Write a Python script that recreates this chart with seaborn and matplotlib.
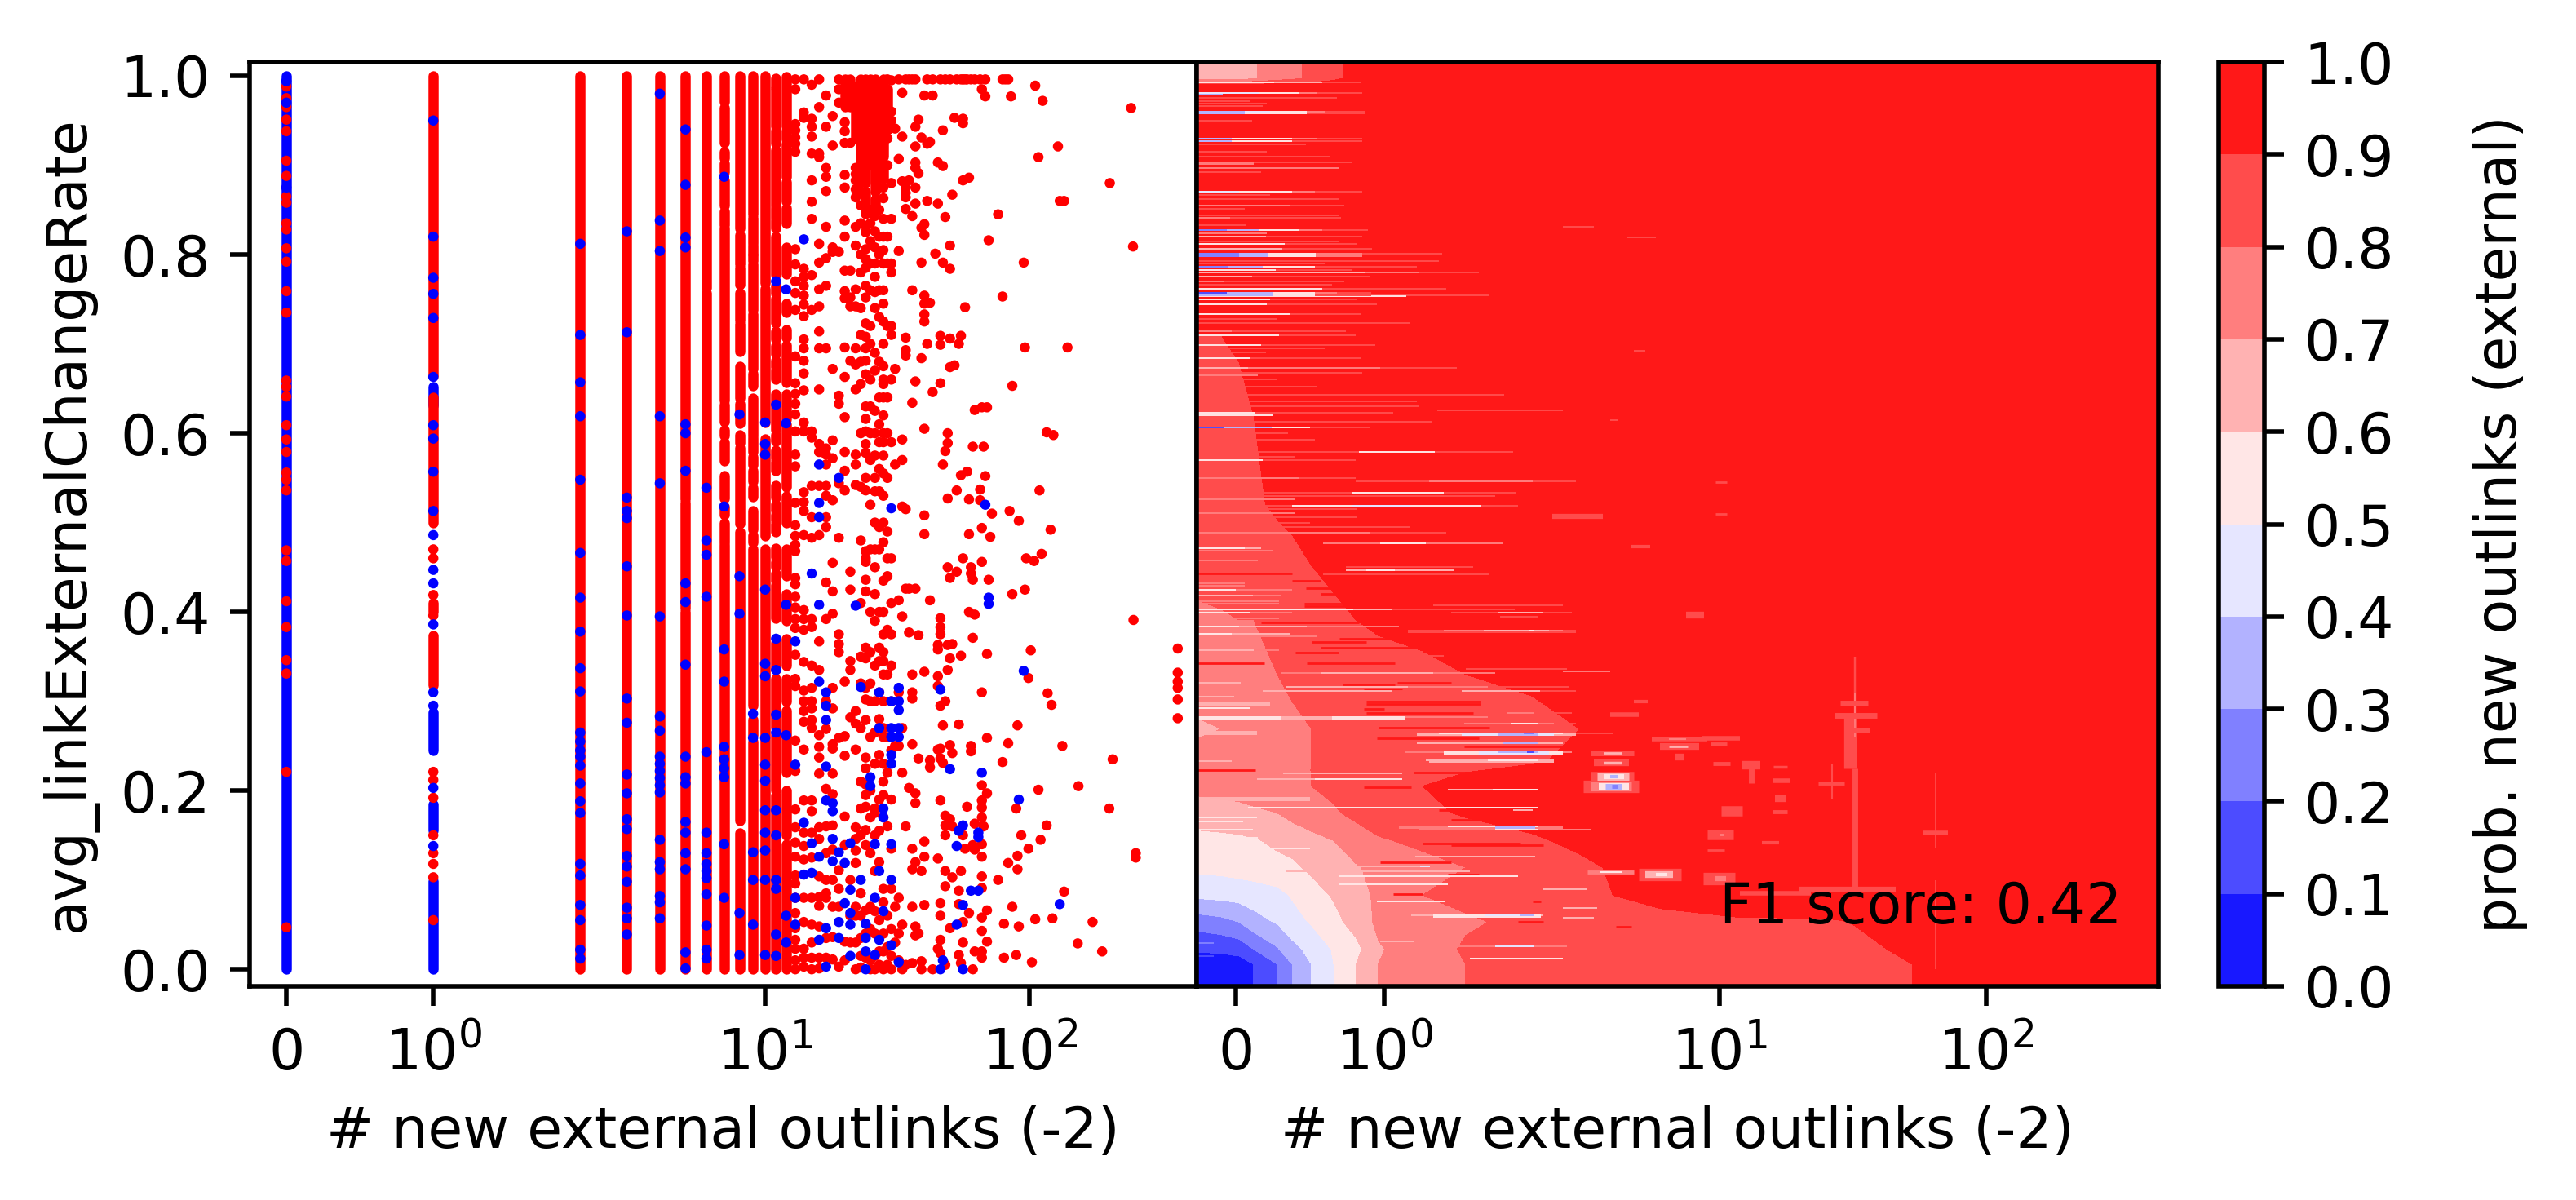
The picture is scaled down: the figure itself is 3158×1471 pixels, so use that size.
import matplotlib
matplotlib.use("Agg")
import matplotlib.pyplot as plt
import numpy as np
import pandas as pd
import seaborn as sns
from matplotlib.ticker import NullLocator

# ---------- labels ----------
x_label = "# new external outlinks (-2)"
y_label = "avg_linkExternalChangeRate"
cbar_label = "prob. new outlinks (external)"
f1_text = "F1 score: 0.42"
x_ticks = [0, 1, 10, 100]
x_ticklabels = ["0", r"$\mathdefault{10^{0}}$", r"$\mathdefault{10^{1}}$", r"$\mathdefault{10^{2}}$"]
y_ticks = [0.0, 0.2, 0.4, 0.6, 0.8, 1.0]
levels = [0.0, 0.1, 0.2, 0.3, 0.4, 0.5, 0.6, 0.7, 0.8, 0.9, 1.0]

# ---------- left panel: nearly solid columns, (low, high) of y ----------
blue_spans = {
    0: [(0.0, 1.0)],
    1: [(0.0, 0.099), (0.155, 0.185), (0.245, 0.288), (0.631, 0.652)],
}
red_spans = {
    1: [(0.664, 1.0), (0.318, 0.374), (0.5, 0.64), (0.40, 0.41)],
    2: [(0.0, 1.0)],
    3: [(0.0, 1.0)],
    4: [(0.625, 1.0), (0.0, 0.622)],
    5: [(0.526, 1.0), (0.404, 0.522), (0.0, 0.400)],
    6: [(0.763, 1.0), (0.0, 0.757)],
    7: [(0.971, 1.0), (0.925, 0.964), (0.908, 0.915), (0.892, 0.902), (0.855, 0.883), (0.833, 0.848),
        (0.637, 0.829), (0.613, 0.632), (0.597, 0.604), (0.569, 0.590), (0.527, 0.553), (0.509, 0.518),
        (0.478, 0.500), (0.0, 0.475)],
    8: [(0.829, 1.0), (0.789, 0.822), (0.766, 0.785), (0.726, 0.757), (0.691, 0.722), (0.639, 0.675),
        (0.611, 0.633), (0.589, 0.598), (0.499, 0.584), (0.166, 0.49), (0.0, 0.153)],
    9: [(0.845, 1.0), (0.813, 0.841), (0.801, 0.810), (0.793, 0.799), (0.738, 0.789), (0.672, 0.733),
        (0.653, 0.667), (0.597, 0.639), (0.579, 0.595), (0.564, 0.574), (0.546, 0.558), (0.529, 0.539),
        (0.492, 0.513), (0.478, 0.486), (0.295, 0.470), (0.262, 0.280), (0.0, 0.255)],
    10: [(0.768, 1.0), (0.612, 0.762), (0.485, 0.594), (0.0, 0.47)],
    11: [(0.987, 0.9975), (0.943, 0.985), (0.924, 0.939), (0.855, 0.917), (0.841, 0.852), (0.829, 0.838),
         (0.777, 0.820), (0.756, 0.765), (0.723, 0.751), (0.705, 0.714), (0.689, 0.698), (0.674, 0.681),
         (0.660, 0.670), (0.604, 0.644), (0.591, 0.598), (0.572, 0.581), (0.558, 0.568), (0.528, 0.542),
         (0.513, 0.521), (0.502, 0.509), (0.490, 0.499), (0.461, 0.471), (0.450, 0.456), (0.435, 0.443),
         (0.393, 0.430), (0.335, 0.365), (0.27, 0.325), (0.20, 0.262), (0.0, 0.195)],
    12: [(0.943, 0.999), (0.929, 0.939), (0.887, 0.924), (0.859, 0.881), (0.835, 0.852), (0.778, 0.808),
         (0.735, 0.745), (0.707, 0.716), (0.657, 0.699), (0.616, 0.644), (0.54, 0.61), (0.50, 0.53),
         (0.44, 0.47), (0.39, 0.42), (0.34, 0.37), (0.30, 0.325), (0.22, 0.29), (0.15, 0.20), (0.0, 0.14)],
    20: [(0.965, 0.996)],
    21: [(0.965, 0.996)],
    22: [(0.93, 0.985)],
    23: [(0.88, 0.996)],
    24: [(0.88, 0.996), (0.846, 0.87)],
    25: [(0.90, 0.996)],
    26: [(0.87, 0.996), (0.85, 0.862)],
    27: [(0.89, 0.985)],
    28: [(0.91, 0.996), (0.885, 0.90)],
    29: [(0.94, 0.985)],
}

# ---------- left panel: single points per column, y values ----------
red_points = {
    0: [0.988, 0.975, 0.965, 0.951, 0.938, 0.905, 0.888, 0.865, 0.858, 0.835, 0.828, 0.807, 0.792, 0.759,
        0.735, 0.659, 0.652, 0.641, 0.609, 0.593, 0.579, 0.556, 0.548, 0.536, 0.469, 0.457, 0.412, 0.383,
        0.346, 0.331, 0.221, 0.047],
    1: [0.47, 0.46, 0.419, 0.396, 0.221, 0.212, 0.192, 0.15, 0.13, 0.118, 0.103, 0.055],
    13: [0.996, 0.985, 0.946, 0.939, 0.931, 0.924, 0.915, 0.806, 0.789, 0.770, 0.757, 0.738, 0.686, 0.656,
         0.644, 0.633, 0.621, 0.602, 0.576, 0.563, 0.522, 0.497, 0.485, 0.475, 0.468, 0.438, 0.431, 0.417,
         0.405, 0.392, 0.382, 0.352, 0.325, 0.317, 0.256, 0.222, 0.179, 0.159, 0.142, 0.126, 0.105, 0.096,
         0.080, 0.063, 0.046, 0.033, 0.023, 0.010, 0.0],
    14: [0.996, 0.959, 0.953, 0.784, 0.775, 0.765, 0.754, 0.744, 0.731, 0.705, 0.695, 0.681, 0.667, 0.648,
         0.612, 0.602, 0.534, 0.523, 0.513, 0.486, 0.402, 0.392, 0.380, 0.344, 0.312, 0.300, 0.289, 0.277,
         0.246, 0.189, 0.153, 0.138, 0.123, 0.080, 0.053, 0.023, 0.013, 0.003],
    15: [0.990, 0.952, 0.943, 0.932, 0.913, 0.883, 0.859, 0.840, 0.777, 0.738, 0.602, 0.595, 0.541, 0.506,
         0.483, 0.392, 0.383, 0.340, 0.315, 0.300, 0.292, 0.279, 0.270, 0.189, 0.177, 0.153, 0.125, 0.08,
         0.05, 0.03, 0.013, 0.0],
    16: [0.996, 0.965, 0.913, 0.909, 0.812, 0.791, 0.761, 0.742, 0.714, 0.695, 0.649, 0.588, 0.579, 0.541,
         0.486, 0.367, 0.335, 0.262, 0.249, 0.237, 0.219, 0.159, 0.146, 0.104, 0.081, 0.071, 0.048, 0.013, 0.001],
    17: [0.978, 0.943, 0.897, 0.887, 0.871, 0.831, 0.796, 0.765, 0.695, 0.583, 0.576, 0.565, 0.541, 0.530,
         0.506, 0.495, 0.433, 0.392, 0.30, 0.269, 0.202, 0.16, 0.13, 0.1, 0.085, 0.08, 0.035, 0.013],
    18: [0.955, 0.922, 0.808, 0.803, 0.672, 0.592, 0.572, 0.525, 0.455, 0.423, 0.398, 0.315, 0.292, 0.252,
         0.247, 0.219, 0.196, 0.161, 0.134, 0.10, 0.07, 0.036, 0.011],
    19: [0.996, 0.985, 0.97, 0.803, 0.642, 0.633, 0.544, 0.483, 0.375, 0.364, 0.355, 0.259, 0.111, 0.003, 0.07, 0.09],
    20: [0.948, 0.938, 0.925, 0.889, 0.875, 0.838, 0.820, 0.782, 0.759, 0.751,
         0.696, 0.663, 0.618, 0.579, 0.558, 0.536, 0.322, 0.261, 0.239, 0.171, 0.139, 0.031, 0.010],
    21: [0.925, 0.782, 0.752, 0.742, 0.681, 0.445, 0.425, 0.345, 0.335, 0.282, 0.10, 0.06, 0.03],
    22: [0.988, 0.981, 0.897, 0.89, 0.883, 0.873, 0.864, 0.831, 0.81, 0.761, 0.742, 0.695, 0.677, 0.649,
         0.576, 0.565, 0.542, 0.289, 0.275, 0.246, 0.159, 0.146, 0.133, 0.119, 0.07, 0.06, 0.03, 0.0],
    23: [0.87, 0.855, 0.835, 0.80, 0.78, 0.74, 0.71, 0.68, 0.655,
         0.60, 0.54, 0.48, 0.41, 0.35, 0.32, 0.27, 0.21, 0.18, 0.15, 0.085, 0.06, 0.035, 0.015, 0.002],
    24: [0.832, 0.825, 0.806, 0.795, 0.785, 0.765, 0.752, 0.723, 0.708, 0.695, 0.681, 0.666, 0.63, 0.616,
         0.602, 0.588, 0.578, 0.55, 0.536, 0.468, 0.46, 0.456, 0.436, 0.423, 0.36, 0.348, 0.315, 0.302,
         0.279, 0.237, 0.225, 0.207, 0.195, 0.182, 0.156, 0.139, 0.066, 0.04, 0.013],
    25: [0.85, 0.835, 0.815, 0.79, 0.76, 0.72, 0.70, 0.66, 0.63, 0.60, 0.57, 0.52, 0.47, 0.40, 0.355, 0.32,
         0.30, 0.26, 0.20, 0.17, 0.13, 0.07, 0.045, 0.01, 0.0],
    26: [0.843, 0.826, 0.808, 0.79, 0.775, 0.758, 0.74, 0.69, 0.67, 0.625, 0.60, 0.575, 0.55, 0.535, 0.50,
         0.47, 0.45, 0.42, 0.39, 0.34, 0.30, 0.265, 0.23, 0.18, 0.175, 0.15, 0.11, 0.065, 0.04, 0.015, 0.0],
    27: [0.875, 0.85, 0.82, 0.80, 0.76, 0.73, 0.68, 0.64, 0.61, 0.59, 0.56, 0.535, 0.495, 0.47, 0.40, 0.36,
         0.345, 0.31, 0.28, 0.24, 0.19, 0.155, 0.12, 0.055, 0.02, 0.005],
    28: [0.875, 0.863, 0.84, 0.82, 0.805, 0.79, 0.76, 0.745, 0.725, 0.70, 0.675, 0.66, 0.655, 0.64, 0.62,
         0.60, 0.59, 0.575, 0.555, 0.53, 0.50, 0.478, 0.435, 0.40, 0.375, 0.355, 0.345, 0.33, 0.30, 0.27,
         0.26, 0.23, 0.21, 0.195, 0.17, 0.09, 0.075, 0.04, 0.02, 0.0],
    29: [0.996, 0.93, 0.90, 0.82, 0.79, 0.72, 0.64, 0.60, 0.55, 0.49, 0.46, 0.44, 0.38, 0.33, 0.26, 0.22,
         0.16, 0.06, 0.025, 0.005],
    30: [0.995, 0.96, 0.95, 0.88, 0.84, 0.79, 0.78, 0.72, 0.71, 0.66, 0.59, 0.46, 0.41, 0.375, 0.34, 0.30,
         0.245, 0.19, 0.135, 0.09, 0.045, 0.015, 0.0],
    31: [0.941, 0.672, 0.565, 0.25, 0.07, 0.03],
    32: [0.996, 0.907, 0.804, 0.413, 0.31, 0.25, 0.08, 0.04, 0.01],
    33: [0.981, 0.932, 0.882, 0.593, 0.57, 0.518, 0.395, 0.27, 0.22, 0.05, 0.0],
    34: [0.996, 0.875, 0.869, 0.864, 0.851, 0.707, 0.693, 0.687, 0.515, 0.426, 0.16, 0.005],
    35: [0.996, 0.883, 0.377, 0.426, 0.203],
    36: [0.996, 0.843, 0.76, 0.634, 0.33, 0.31, 0.303, 0.252, 0.135, 0.112, 0.07, 0.007],
    37: [0.996, 0.943, 0.921, 0.903, 0.897, 0.875, 0.857, 0.658, 0.426, 0.197, 0.186, 0.12, 0.048, 0.038],
    38: [0.951, 0.891, 0.374, 0.236, 0.04],
    39: [0.931, 0.83, 0.791, 0.684, 0.11, 0.009, 0.0],
    40: [0.978, 0.834, 0.822, 0.754, 0.745, 0.733, 0.725, 0.605, 0.508, 0.487, 0.333, 0.143, 0.126, 0.072],
    41: [0.996, 0.924, 0.86, 0.70],
    42: [0.926, 0.746, 0.413, 0.234, 0.226],
    43: [0.996, 0.978, 0.646, 0.0],
    44: [0.801],
    45: [0.903, 0.857, 0.363, 0.358, 0.328, 0.317, 0.246, 0.124, 0.023],
    46: [0.996, 0.709, 0.699, 0.656, 0.393, 0.383, 0.375, 0.295, 0.247, 0.236, 0.189, 0.074, 0.06, 0.033, 0.018],
    47: [0.939, 0.899, 0.791, 0.565, 0.273, 0.231],
    48: [0.996, 0.842, 0.58, 0.30, 0.172, 0.161, 0.15, 0.11, 0.093, 0.005],
    49: [0.60, 0.589, 0.527, 0.45, 0.363, 0.335],
    50: [0.996, 0.81, 0.784, 0.706, 0.674, 0.438, 0.348, 0.251, 0.168, 0.046],
    51: [0.867, 0.364, 0.242, 0.16, 0.103],
    52: [0.953, 0.676],
    53: [0.996, 0.536, 0.445],
    54: [0.70, 0.274, 0.088, 0.073, 0.016],
    55: [0.996, 0.709, 0.553, 0.351, 0.11, 0.007],
    56: [0.952, 0.947, 0.883, 0.996, 0.46, 0.15, 0.053, 0.03],
    57: [0.996, 0.741, 0.135],
    58: [0.996, 0.557, 0.182],
    59: [0.886, 0.526, 0.487, 0.40, 0.063],
    60: [0.996, 0.45, 0.443, 0.25, 0.244],
    61: [0.585, 0.371, 0.436, 0.139, 0.0],
    62: [0.996, 0.626, 0.397, 0.163, 0.134, 0.02],
    65: [0.996, 0.537, 0.525],
    66: [0.985, 0.629, 0.494, 0.456, 0.31, 0.206, 0.189, 0.181, 0.17, 0.14, 0.126, 0.104, 0.091, 0.058, 0.043, 0.02, 0.013],
    67: [0.585, 0.16],
    68: [0.977, 0.996, 0.552],
    69: [0.629, 0.353, 0.259, 0.197, 0.066, 0.031],
    70: [0.816, 0.436],
    71: [0.484],
    72: [0.51],
    76: [0.845, 0.10],
    79: [0.996, 0.753, 0.232],
    80: [0.051, 0.013],
    81: [0.996],
    83: [0.996, 0.253, 0.119],
    84: [0.513],
    85: [0.977],
    86: [0.653, 0.07, 0.42],
    89: [0.18, 0.016],
    90: [0.273, 0.127, 0.112],
    91: [0.502, 0.048],
    93: [0.15],
    95: [0.791],
    96: [0.696, 0.425],
    97: [0.46],
    99: [0.326, 0.135],
    101: [0.357],
    102: [0.008],
    104: [0.457],
    105: [0.989, 0.056],
    108: [0.909, 0.201],
    109: [0.536],
    110: [0.145],
    111: [0.465],
    112: [0.972],
    116: [0.601, 0.161],
    117: [0.309],
    120: [0.492],
    121: [0.296],
    122: [0.057],
    123: [0.598],
    128: [0.921],
    130: [0.86],
    133: [0.25],
    135: [0.86, 0.087],
    139: [0.696],
    152: [0.029],
    153: [0.205],
    173: [0.053],
    188: [0.02],
    200: [0.18],
    201: [0.88],
    206: [0.235],
    242: [0.964],
    246: [0.809],
    247: [0.391],
    252: [0.125, 0.13],
    363: [0.359, 0.332, 0.322, 0.315, 0.302, 0.281],
}

blue_points = {
    0: [0.994, 0.970, 0.875],
    1: [0.95, 0.82, 0.774, 0.756, 0.729, 0.663, 0.609, 0.594, 0.557, 0.513, 0.486, 0.447, 0.432, 0.386,
        0.31, 0.295, 0.203, 0.138],
    2: [0.812, 0.71, 0.657, 0.619, 0.548, 0.466, 0.416, 0.378, 0.337, 0.311, 0.265, 0.255, 0.245, 0.238,
        0.228, 0.208, 0.188, 0.175, 0.118, 0.105, 0.072, 0.055, 0.022, 0.012],
    3: [0.826, 0.713, 0.528, 0.513, 0.505, 0.451, 0.396, 0.303, 0.276, 0.218, 0.197, 0.168, 0.157, 0.127,
        0.115, 0.098, 0.069, 0.057, 0.039],
    4: [0.98, 0.838, 0.804, 0.619, 0.544, 0.395, 0.283, 0.267, 0.238, 0.23, 0.222, 0.214, 0.206, 0.198,
        0.145, 0.12, 0.112, 0.082, 0.075, 0.057],
    5: [0.94, 0.878, 0.819, 0.808, 0.61, 0.6, 0.558, 0.432, 0.411, 0.341, 0.238, 0.215, 0.208, 0.165,
        0.153, 0.13, 0.112, 0.019, 0.001],
    6: [0.539, 0.48, 0.464, 0.417, 0.243, 0.153, 0.13, 0.118, 0.11, 0.102, 0.084, 0.049, 0.022, 0.012],
    7: [0.887, 0.518, 0.358, 0.322, 0.249, 0.235, 0.225, 0.215, 0.14, 0.08],
    8: [0.621, 0.44, 0.398, 0.063, 0.016],
    9: [0.286, 0.259, 0.131, 0.1, 0.05],
    10: [0.612, 0.588, 0.576, 0.425, 0.342, 0.328, 0.259, 0.229, 0.211, 0.178, 0.153, 0.133, 0.1, 0.016],
    11: [0.77, 0.632, 0.37, 0.335, 0.285, 0.265, 0.178, 0.15, 0.10, 0.09, 0.039, 0.015],
    12: [0.761, 0.611, 0.408, 0.262, 0.06, 0.03],
    13: [0.367, 0.229, 0.08, 0.05],
    14: [0.817, 0.164, 0.106],
    15: [0.443, 0.141, 0.108],
    16: [0.565, 0.522, 0.506, 0.408, 0.322, 0.126, 0.033],
    17: [0.31, 0.295, 0.279, 0.227, 0.189, 0.046, 0.003],
    18: [0.186, 0.177, 0.146, 0.121],
    19: [0.55, 0.131, 0.053, 0.035],
    20: [0.119, 0.074],
    21: [0.141, 0.089, 0.063, 0.05, 0.015],
    22: [0.407],
    23: [0.316, 0.10],
    24: [0.051, 0.035, 0.02, 0.0],
    25: [0.215, 0.205],
    26: [0.14, 0.08, 0.016],
    27: [0.31, 0.27, 0.11, 0.033],
    28: [0.18, 0.17, 0.065],
    30: [0.516, 0.30, 0.27, 0.26, 0.24, 0.23, 0.14, 0.10, 0.027],
    32: [0.315, 0.30, 0.29, 0.27, 0.26, 0.008],
    46: [0.313, 0.0],
    47: [0.01],
    50: [0.224],
    53: [0.138, 0.05],
    54: [0.155],
    56: [0.161, 0.072, 0.0],
    60: [0.088],
    64: [0.153, 0.148, 0.088],
    66: [0.22],
    68: [0.52],
    70: [0.416, 0.409],
    91: [0.19],
    95: [0.334],
    130: [0.073],
}

# ---------- right panel: probability surface ----------
grid_x = [-0.3, -0.1, 0.02, 0.12, 0.28, 0.38, 0.51, 0.66, 0.81, 0.96, 1.26, 1.55, 2, 3, 4, 6, 12, 25, 60, 450]
grid_y = [-0.02, 0.0055, 0.0225, 0.053, 0.083, 0.114, 0.144, 0.175, 0.205, 0.2356, 0.269, 0.33, 0.391,
          0.452, 0.52, 0.62, 0.80, 0.985, 0.99, 0.997, 1.02]
grid_p = [
    [.05, .05, .05, .10, .20, .30, .40, .50, .60, .70, .75, .80, .82, .84, .85, .86, .87, .88, .905, .97],
    [.05, .05, .05, .10, .20, .30, .40, .50, .60, .70, .75, .80, .82, .84, .85, .86, .87, .88, .905, .97],
    [.11, .12, .14, .20, .29, .37, .43, .51, .57, .69, .76, .81, .83, .85, .86, .87, .88, .89, .91, .97],
    [.24, .27, .30, .36, .41, .46, .51, .57, .64, .72, .76, .79, .82, .84, .85, .87, .89, .89, .95, .97],
    [.42, .43, .44, .45, .47, .51, .56, .61, .66, .72, .80, .82, .84, .87, .90, .93, .95, .96, .97, .97],
    [.52, .53, .54, .55, .57, .58, .62, .65, .69, .73, .77, .80, .83, .88, .91, .94, .96, .97, .97, .97],
    [.56, .57, .58, .59, .62, .64, .67, .70, .76, .79, .82, .85, .89, .92, .94, .96, .97, .97, .97, .97],
    [.66, .67, .67, .68, .70, .73, .76, .79, .82, .85, .88, .91, .93, .95, .96, .97, .97, .97, .97, .97],
    [.72, .73, .74, .76, .78, .79, .80, .82, .85, .88, .90, .92, .94, .95, .96, .97, .97, .97, .97, .97],
    [.73, .74, .75, .76, .78, .79, .80, .81, .83, .84, .86, .88, .89, .92, .94, .96, .97, .97, .97, .97],
    [.68, .70, .72, .75, .78, .79, .80, .81, .82, .83, .84, .85, .87, .90, .93, .96, .97, .97, .97, .97],
    [.76, .77, .78, .79, .80, .81, .82, .83, .84, .85, .87, .90, .92, .95, .97, .97, .97, .97, .97, .97],
    [.78, .79, .80, .80, .82, .84, .86, .88, .90, .92, .94, .95, .96, .97, .97, .97, .97, .97, .97, .97],
    [.83, .84, .85, .86, .87, .88, .90, .92, .94, .95, .96, .97, .97, .97, .97, .97, .97, .97, .97, .97],
    [.86, .87, .88, .89, .91, .92, .93, .94, .95, .96, .97, .97, .97, .97, .97, .97, .97, .97, .97, .97],
    [.88, .88, .89, .90, .91, .92, .93, .94, .95, .96, .97, .97, .97, .97, .97, .97, .97, .97, .97, .97],
    [.92, .92, .92, .92, .93, .93, .94, .95, .96, .97, .97, .97, .97, .97, .97, .97, .97, .97, .97, .97],
    [.92, .92, .92, .92, .93, .93, .94, .95, .96, .97, .97, .97, .97, .97, .97, .97, .97, .97, .97, .97],
    [.92, .92, .92, .92, .93, .93, .94, .95, .96, .97, .97, .97, .97, .97, .97, .97, .97, .97, .97, .97],
    [.65, .65, .65, .69, .75, .78, .82, .88, .93, .95, .97, .97, .97, .97, .97, .97, .97, .97, .97, .97],
    [.65, .65, .65, .69, .75, .78, .82, .88, .93, .95, .97, .97, .97, .97, .97, .97, .97, .97, .97, .97],
]

# streaks starting at the left edge: (y, x where it ends, probability)
edge_streaks = [
    (.993, .84, .85), (.993, .58, .65), (.993, .26, .55),
    (.981, .85, .85), (.981, .55, .75), (.981, .43, .55), (.981, .16, .45), (.979, -.09, .35),
    (.975, .68, .85), (.969, .21, .85), (.966, .18, .85), (.972, .10, .85),
    (.960, .87, .85), (.960, .60, .75), (.960, .48, .55), (.960, .23, .45), (.960, .06, .35),
    (.958, .87, .85), (.958, .48, .55), (.958, .06, .35), (.950, .11, .85),
    (.930, .85, .85), (.930, .55, .70), (.930, .38, .55), (.930, -.03, .35),
    (.927, .85, .85), (.927, .38, .55), (.927, -.03, .35), (.923, .47, .85),
    (.915, .21, .85), (.910, .63, .85), (.903, .78, .85), (.903, .12, .70), (.901, .12, .70),
    (.897, .70, .75), (.892, .17, .85),
    (.870, .85, .85), (.870, .53, .70), (.870, .38, .55), (.870, .02, .40),
    (.867, .23, .85), (.862, .69, .85), (.855, .73, .85), (.855, .36, .75), (.851, .06, .85),
    (.844, .69, .85), (.841, .71, .85), (.841, -.04, .75), (.833, .07, .85),
    (.827, .89, .85), (.827, .58, .70), (.827, .43, .55), (.827, .16, .35), (.827, -.06, .25),
    (.824, .21, .75), (.820, .85, .85), (.820, .20, .60), (.815, .70, .85),
    (.812, .82, .85), (.812, .33, .55), (.806, .92, .85), (.806, .31, .60),
    (.801, 1.39, .85), (.801, .85, .75), (.801, .70, .70), (.801, .54, .55), (.801, .22, .35), (.801, .02, .25),
    (.798, .85, .75), (.798, .54, .55), (.798, .22, .35), (.798, .02, .25),
    (.793, 1.37, .85), (.790, .60, .85),
    (.786, 1.22, .85), (.786, .53, .55), (.786, .18, .35), (.786, -.05, .25),
    (.783, .78, .85), (.783, .27, .55), (.780, 1.64, .85), (.780, 1.23, .70), (.780, .87, .60),
    (.775, .90, .85), (.775, .11, .65), (.770, .73, .85), (.770, -.08, .75),
    (.766, .65, .85), (.762, 1.42, .85), (.762, .58, .55),
    (.757, .91, .85), (.757, .68, .70), (.757, .53, .55), (.757, .25, .35), (.757, -.06, .15),
    (.754, .91, .85), (.754, .53, .55), (.754, .25, .35), (.754, 1.71, .85), (.753, 1.15, .55),
    (.750, .82, .85), (.750, .23, .55), (.744, .95, .85), (.744, .21, .55),
    (.733, .84, .85), (.733, .36, .55), (.728, .28, .85), (.723, 1.17, .85),
    (.714, .74, .85), (.714, -.03, .75), (.710, .81, .85), (.710, .29, .55),
    (.699, .94, .85), (.699, .17, .55), (.695, .60, .85), (.690, .20, .85),
    (.684, .84, .85), (.684, .10, .55), (.673, 1.49, .85), (.673, .97, .70), (.673, .08, .60),
    (.668, .85, .80), (.665, .15, .75), (.660, .28, .85), (.652, .55, .85),
    (.643, 1.81, .85), (.636, 1.22, .85), (.630, 1.23, .85), (.623, 1.06, .85), (.623, .13, .55),
    (.620, .25, .55), (.613, 1.32, .85), (.606, .90, .85), (.606, .50, .55), (.606, .24, .35), (.606, -.08, .15),
    (.600, .35, .85), (.593, .53, .85), (.579, 1.87, .85), (.574, .40, .85), (.570, .81, .85), (.570, .18, .55),
    (.560, .13, .85), (.550, .43, .75), (.550, .81, .85), (.533, 1.89, .85), (.530, 1.75, .85), (.526, .40, .75),
    (.519, 1.90, .85), (.515, .82, .85), (.511, .40, .75), (.506, .82, .85), (.500, .50, .85),
    (.495, 1.17, .85), (.489, 1.42, .85), (.489, .90, .75),
    # below y = 0.48
    (.4715, .06, .55), (.4715, .17, .65), (.4685, .25, .75), (.4578, .15, .75), (.432, .06, .75), (.429, .06, .75),
    (.4244, 0.0, .55), (.4244, .38, .75), (.418, .115, .65), (.418, .30, .75), (.412, .29, .75), (.409, .29, .75),
    (.403, .32, .55), (.403, .79, .55), (.403, 1.05, .65), (.403, 1.88, .85),
    (.399, .10, .55), (.399, .38, .75), (.393, .29, .75), (.3839, .02, .55), (.3839, .48, .65), (.3839, 1.10, .75),
    (.3757, -.03, .55), (.3757, .37, .65), (.373, .55, .70), (.3574, .12, .65), (.3574, .29, .75), (.3574, .44, .85),
    (.3209, .03, .65), (.3117, -.01, .70), (.3047, -.01, .65), (.298, .23, .60), (.296, .23, .60),
    (.292, .10, .55), (.292, .38, .70), (.2822, .30, .55), (.2822, .65, .65), (.2805, .30, .55), (.2805, .65, .65),
    (.266, .14, .65), (.2635, .14, .65), (.2326, -.03, .65),
    (.1915, .50, .65), (.1895, .50, .65), (.1701, .14, .55), (.1656, .05, .55), (.156, .115, .55),
    (.1473, .15, .55), (.145, .15, .55), (.135, .50, .55), (.1265, .30, .55), (.12, .14, .55),
    (.0655, -.1, .35), (.07, .02, .35), (.0535, -.05, .25), (.0295, -.15, .20), (.0145, -.15, .15),
]

# streaks that start away from the left edge: (y, x low, x high, probability)
inner_streaks = [
    (.831, 2.6, 3.4, .85), (.819, 4.5, 5.8, .85), (.692, 4.8, 5.3, .85), (.615, 3.9, 4.2, .85),
    (.626, 1.36, 2.6, .85), (.579, .83, 1.34, .55), (.546, .81, 2.9, .85), (.546, 1.3, 2.0, .70),
    (.533, .78, 1.4, .55), (.519, .38, 1.65, .55), (.519, .78, 1.17, .40),
    # lower half
    (.4767, .59, 1.8, .75), (.4767, .97, 1.28, .55), (.4505, .74, 1.6, .85), (.4463, .74, 1.47, .60),
    (.4463, .88, 1.07, .55), (.4417, .59, 1.71, .80), (.4076, 1.33, 2.6, .85), (.399, 1.45, 2.8, .85),
    (.399, 1.77, 2.2, .65), (.395, 1.78, 2.1, .85), (.3787, 1.16, 2.9, .85), (.3787, 1.40, 2.6, .75),
    (.3787, 1.67, 2.3, .65), (.3787, 1.98, 2.03, .55), (.3770, 1.16, 2.9, .85),
    (.351, .58, 1.4, .85), (.3315, .30, 1.75, .75), (.3315, .57, 1.33, .60), (.336, 1.55, 2.7, .85),
    (.333, 2.6, 3.9, .75), (.316, .34, 1.16, .60), (.316, 1.16, 1.7, .75), (.316, 1.7, 2.75, .85),
    (.3117, .18, 1.05, .65), (.3117, 1.05, 2.9, .85), (.3117, 1.52, 2.13, .60), (.2867, 1.64, 2.8, .85),
    (.2867, 1.83, 2.03, .70), (.2822, .65, 1.14, .55), (.2822, 1.14, 1.7, .75), (.2805, .65, 1.14, .55),
    (.2752, 1.22, 2.9, .85), (.2752, 1.54, 2.4, .70), (.2752, 1.85, 2.1, .55),
    (.2642, .97, 4.0, .85), (.2642, 1.22, 2.9, .60), (.2642, 1.37, 2.6, .55), (.2642, 1.52, 2.4, .40),
    (.2642, 1.77, 2.1, .30), (.2642, 1.94, 2.03, .20), (.2625, 1.22, 2.9, .60), (.2625, 1.52, 2.4, .40),
    (.2625, 1.77, 2.1, .30),
    (.2530, 1.22, 2.6, .60), (.2530, 1.8, 2.1, .35), (.2432, 1.14, 2.8, .70), (.2432, 1.4, 2.6, .55),
    (.2432, 1.64, 2.3, .40), (.2432, 1.77, 2.1, .30), (.2432, 1.96, 2.03, .15), (.2415, 1.4, 2.6, .55),
    (.2415, 1.64, 2.3, .40), (.234, 1.28, 2.4, .65), (.234, 1.70, 2.1, .55), (.2318, 1.3, 2.4, .65),
    (.2234, .50, 1.3, .85), (.2189, .32, 1.12, .65), (.2128, .53, 1.12, .55), (.2128, .14, .53, .65),
    (.2006, 1.43, 2.1, .65), (.2006, 1.73, 2.1, .55), (.1808, .08, 1.0, .55), (.1808, 1.0, 2.1, .55),
    (.1785, 1.87, 2.0, .60), (.1604, 1.1, 2.6, .70), (.1604, 1.43, 2.1, .55), (.1604, 1.75, 2.05, .35),
    (.1585, 1.1, 2.6, .70), (.1585, 1.75, 2.05, .35), (.1565, 1.23, 3.3, .70), (.1565, 1.75, 2.1, .55),
    (.126, 1.21, 2.05, .60), (.1154, .61, 1.24, .60), (.1154, 1.24, 1.31, .40), (.1093, .34, 1.58, .60),
    (.1047, .69, 1.9, .55), (.095, .69, 1.43, .55), (.09, 2.2, 3.2, .60), (.0764, .95, 1.41, .55),
    (.0682, 2.6, 3.5, .60), (.06, 1.18, 2.2, .65), (.06, 1.33, 2.15, .55), (.06, 1.68, 2.03, .40),
    (.06, 1.92, 2.03, .30), (.0585, 1.33, 2.15, .55), (.0575, 2.6, 3.4, .60), (.0314, .97, 1.2, .60),
    (.0256, 1.24, 2.7, .70), (.0256, 1.75, 2.03, .45), (.0125, 1.58, 2.6, .55),
]

# red cuts through the paler area: (y, x low, x high)
red_cuts = [
    (.4426, -.3, .38), (.435, .38, .57), (.4265, .47, .70), (.42, .57, .72), (.409, .46, .95), (.4065, .46, .95),
    (.3878, .17, .83), (.37, .70, 1.07), (.366, .51, .88), (.36, .57, 1.28), (.354, .40, .69), (.343, -.3, .19),
    (.343, .48, 1.07), (.3209, 1.09, 1.45), (.3187, .72, 1.07), (.313, .86, 1.12), (.30, .88, 1.65), (.297, .88, 1.65),
    (.291, .86, 1.0), (.287, .88, 1.6), (.2706, .96, 1.71), (.2585, .95, 1.64), (.249, 1.54, 2.6), (.2234, -.3, .13),
    (.2036, .86, 1.18), (.187, 1.39, 3.2), (.185, 1.6, 3.2), (.178, 1.37, 1.9), (.167, 1.45, 2.9), (.1412, 1.26, 1.92),
    (.139, 1.45, 2.2), (.12, .97, 1.45), (.106, 1.43, 1.64), (.0843, 1.06, 1.26), (.0764, 2.0, 2.15), (.053, 1.9, 2.2),
    (.0475, 4.1, 4.7), (.235, 2.3, 3.4), (.22, 1.2, 2.2), (.212, 1.5, 2.4), (.195, 1.45, 2.4),
]

# small rounded patches: (y, x low, x high, probability, thickness in points)
patches = [
    (.507, 2.37, 3.68, .85, .9), (.545, 9.7, 10.7, .85, .4), (.510, 9.7, 10.7, .85, .4),
    (.205, 3.1, 5.0, .85, 2.2), (.205, 3.3, 4.7, .70, 1.6), (.205, 3.55, 4.6, .55, 1.2), (.205, 3.75, 4.3, .35, 1.0), (.205, 3.95, 4.15, .25, .7),
    (.2158, 3.3, 4.8, .85, 1.8), (.2158, 3.5, 4.6, .65, 1.3), (.2158, 3.7, 4.4, .55, .9), (.2158, 3.9, 4.2, .30, .6),
    (.231, 3.4, 4.6, .85, 1.2), (.231, 3.7, 4.3, .60, .5), (.2423, 3.3, 4.8, .85, 1.0), (.2423, 3.7, 4.3, .65, .4),
    (.2493, 6.0, 8.4, .85, 1.2), (.2493, 6.5, 7.6, .60, .4), (.258, 5.6, 9.0, .85, .8), (.258, 6.5, 7.5, .70, .3), (.238, 6.8, 7.4, .85, 1.2),
    (.2585, 8.6, 12, .85, .8), (.2518, 9.3, 10.7, .85, .7),
    (.1063, 5.0, 7.2, .80, 2.2), (.1063, 5.3, 6.7, .60, 1.2), (.1063, 5.8, 6.4, .55, .6),
    (.1084, 3.2, 4.8, .75, .7), (.1084, 3.6, 4.3, .55, .3),
    (.1011, 8.7, 11.5, .85, 2.2), (.1011, 9.6, 10.6, .70, .9), (.151, 9.0, 11.3, .85, 1.8), (.151, 10.0, 10.4, .70, .4),
    (.1772, 10.2, 12.2, .85, 1.8), (.228, 12.2, 14.3, .85, 1.5), (.1906, 16.2, 17.9, .85, 1.2), (.2107, 15.8, 18.5, .85, .8),
    (.2265, 16, 18, .85, .5), (.1763, 15.8, 18, .85, .7), (.1413, 14.5, 16.8, .85, .6), (.1331, 9.0, 10.5, .85, .4),
    (.2302, 9.5, 11, .85, .7), (.2083, 23.5, 29.5, .85, .7), (.298, 28.5, 36, .85, 1.0), (.2843, 27, 39, .85, 1.0),
    (.2676, 29.7, 36.5, .85, 1.0), (.3966, 7.5, 8.8, .85, 1.2), (.473, 4.7, 5.5, .85, .6), (.30, 4.8, 5.4, .85, .6),
    (.2848, 3.9, 5.0, .85, .8), (.153, 58, 72, .85, .8),
    (.09, 20, 46, .85, .9), (.085, 12, 22, .85, .8),
]

# thin upright features: (x, y low, y high, probability, thickness in points)
spikes = [
    (32.3, 0.09, .225, .85, 1.0), (31.0, .225, .285, .85, 2.2), (32.3, .285, .35, .85, .35), (32.3, .26, .31, .70, .25),
    (13.2, .208, .228, .85, 1.0), (26.5, .19, .23, .85, .3), (64.6, .135, .22, .85, .25), (64.6, 0.0, .10, .85, .25),
]

# ---------- figure ----------
W, H = 3158, 1471
fig = plt.figure(figsize=(W / 500, H / 500), dpi=500)
ax_l = fig.add_axes([306 / W, 1 - 1209 / H, (1467 - 306) / W, (1209 - 76) / H])
ax_r = fig.add_axes([1467 / W, 1 - 1209 / H, (2646 - 1467) / W, (1209 - 76) / H])
cax = fig.add_axes([2720 / W, 1 - 1209 / H, (2776 - 2720) / W, (1209 - 76) / H])

# left panel
dot_lw = 1.8
for col, spans in blue_spans.items():
    ax_l.vlines([col] * len(spans), [s[0] for s in spans], [s[1] for s in spans],
                colors="blue", lw=dot_lw, capstyle="round")
for col, spans in red_spans.items():
    ax_l.vlines([col] * len(spans), [s[0] for s in spans], [s[1] for s in spans],
                colors="red", lw=dot_lw, capstyle="round")

rows = []
for col, ys in red_points.items():
    rows += [(col, y, "red") for y in ys]
for col, ys in blue_points.items():
    rows += [(col, y, "blue") for y in ys]
points = pd.DataFrame(rows, columns=["outlinks", "rate", "label"])
sns.scatterplot(data=points, x="outlinks", y="rate", hue="label",
                palette={"red": "red", "blue": "blue"}, s=dot_lw ** 2, linewidth=0,
                legend=False, ax=ax_l, zorder=3)

# right panel
cf = ax_r.contourf(grid_x, grid_y, np.array(grid_p), levels=levels, cmap="bwr", vmin=0, vmax=1)
cmap = plt.get_cmap("bwr")
def shade(p):
    return cmap((int(p * 10) + 0.5) / 10)

for y, hi, p in sorted(edge_streaks, key=lambda r: (-r[1])):
    ax_r.hlines(y, -0.3, hi, colors=[shade(p)], lw=0.28)
for y, lo, hi in red_cuts:
    ax_r.hlines(y, lo, hi, colors=[shade(.95)], lw=0.4)
for y, lo, hi, p in inner_streaks:
    ax_r.hlines(y, lo, hi, colors=[shade(p)], lw=0.28)
for x, lo, hi, p, w in spikes:
    ax_r.vlines(x, lo, hi, colors=[shade(p)], lw=w)
for y, lo, hi, p, w in patches:
    ax_r.hlines(y, lo, hi, colors=[shade(p)], lw=w)

ax_r.text(0.962, 0.068, f1_text, transform=ax_r.transAxes, ha="right", va="baseline", fontsize=10)

for ax, xlim in ((ax_l, (-0.25, 428)), (ax_r, (-0.265, 442))):
    ax.set_xscale("symlog", linthresh=2)
    ax.set_xlim(*xlim)
    ax.set_ylim(-0.019, 1.0155)
    ax.set_xticks(x_ticks)
    ax.set_xticklabels(x_ticklabels)
    ax.xaxis.set_minor_locator(NullLocator())
    ax.set_xlabel(x_label)

ax_l.set_yticks(y_ticks)
ax_l.set_ylabel(y_label)
ax_r.set_yticks([])
ax_r.set_ylabel("")

cbar = fig.colorbar(cf, cax=cax)
cbar.set_ticks(levels)
cbar.set_ticklabels([f"{v:.1f}" for v in levels])
cbar.set_label(cbar_label, labelpad=14)

fig.savefig("out.png", dpi=500)
